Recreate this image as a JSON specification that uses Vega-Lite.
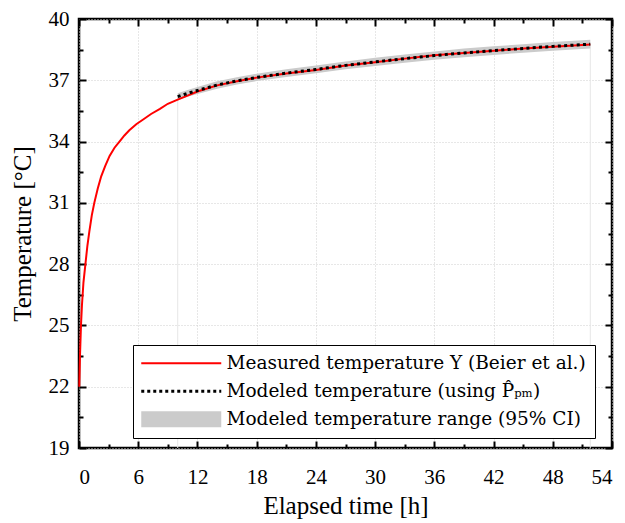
{
  "$schema": "https://vega.github.io/schema/vega-lite/v6.json",
  "width": 533,
  "height": 429,
  "autosize": {"type": "none"},
  "padding": {"left": 79, "top": 19, "right": 13, "bottom": 75},
  "background": "white",
  "config": {
    "view": {"stroke": "black", "strokeWidth": 2.5},
    "axis": {
      "domain": false,
      "labelFont": "Liberation Serif",
      "labelFontSize": 21,
      "labelColor": "black",
      "titleFont": "Liberation Serif",
      "titleFontSize": 25,
      "titleFontWeight": "normal",
      "titleColor": "black",
      "tickColor": "black",
      "tickWidth": 2,
      "gridColor": "#cfcfcf",
      "gridDash": [1, 2],
      "gridWidth": 1
    }
  },
  "datasets": {
    "measured": [
      {"t": 0.03, "T": 22.0, "series": "Measured temperature Y (Beier et al.)"},
      {"t": 0.1, "T": 23.5, "series": "Measured temperature Y (Beier et al.)"},
      {"t": 0.2, "T": 25.0, "series": "Measured temperature Y (Beier et al.)"},
      {"t": 0.3, "T": 26.0, "series": "Measured temperature Y (Beier et al.)"},
      {"t": 0.45, "T": 27.1, "series": "Measured temperature Y (Beier et al.)"},
      {"t": 0.65, "T": 28.0, "series": "Measured temperature Y (Beier et al.)"},
      {"t": 0.85, "T": 28.9, "series": "Measured temperature Y (Beier et al.)"},
      {"t": 1.05, "T": 29.6, "series": "Measured temperature Y (Beier et al.)"},
      {"t": 1.3, "T": 30.4, "series": "Measured temperature Y (Beier et al.)"},
      {"t": 1.55, "T": 31.0, "series": "Measured temperature Y (Beier et al.)"},
      {"t": 1.9, "T": 31.7, "series": "Measured temperature Y (Beier et al.)"},
      {"t": 2.25, "T": 32.3, "series": "Measured temperature Y (Beier et al.)"},
      {"t": 2.65, "T": 32.8, "series": "Measured temperature Y (Beier et al.)"},
      {"t": 3.1, "T": 33.3, "series": "Measured temperature Y (Beier et al.)"},
      {"t": 3.6, "T": 33.7, "series": "Measured temperature Y (Beier et al.)"},
      {"t": 4.1, "T": 34.0, "series": "Measured temperature Y (Beier et al.)"},
      {"t": 4.6, "T": 34.3, "series": "Measured temperature Y (Beier et al.)"},
      {"t": 5.1, "T": 34.55, "series": "Measured temperature Y (Beier et al.)"},
      {"t": 5.8, "T": 34.85, "series": "Measured temperature Y (Beier et al.)"},
      {"t": 6.5, "T": 35.08, "series": "Measured temperature Y (Beier et al.)"},
      {"t": 7.3, "T": 35.35, "series": "Measured temperature Y (Beier et al.)"},
      {"t": 8.2, "T": 35.6, "series": "Measured temperature Y (Beier et al.)"},
      {"t": 9.0, "T": 35.85, "series": "Measured temperature Y (Beier et al.)"},
      {"t": 10.0, "T": 36.05, "series": "Measured temperature Y (Beier et al.)"},
      {"t": 11.0, "T": 36.25, "series": "Measured temperature Y (Beier et al.)"},
      {"t": 12.0, "T": 36.45, "series": "Measured temperature Y (Beier et al.)"},
      {"t": 14.0, "T": 36.75, "series": "Measured temperature Y (Beier et al.)"},
      {"t": 16.0, "T": 36.95, "series": "Measured temperature Y (Beier et al.)"},
      {"t": 18.0, "T": 37.13, "series": "Measured temperature Y (Beier et al.)"},
      {"t": 21.0, "T": 37.33, "series": "Measured temperature Y (Beier et al.)"},
      {"t": 24.0, "T": 37.5, "series": "Measured temperature Y (Beier et al.)"},
      {"t": 27.0, "T": 37.72, "series": "Measured temperature Y (Beier et al.)"},
      {"t": 30.0, "T": 37.88, "series": "Measured temperature Y (Beier et al.)"},
      {"t": 33.0, "T": 38.06, "series": "Measured temperature Y (Beier et al.)"},
      {"t": 36.0, "T": 38.22, "series": "Measured temperature Y (Beier et al.)"},
      {"t": 39.0, "T": 38.34, "series": "Measured temperature Y (Beier et al.)"},
      {"t": 42.0, "T": 38.45, "series": "Measured temperature Y (Beier et al.)"},
      {"t": 45.0, "T": 38.55, "series": "Measured temperature Y (Beier et al.)"},
      {"t": 48.0, "T": 38.64, "series": "Measured temperature Y (Beier et al.)"},
      {"t": 51.8, "T": 38.75, "series": "Measured temperature Y (Beier et al.)"}
    ],
    "model": [
      {"t": 10.0, "T": 36.2, "lo": 36.03, "hi": 36.37},
      {"t": 11.0, "T": 36.36, "lo": 36.19, "hi": 36.53},
      {"t": 12.0, "T": 36.5, "lo": 36.33, "hi": 36.67},
      {"t": 14.0, "T": 36.77, "lo": 36.59, "hi": 36.95},
      {"t": 16.0, "T": 36.97, "lo": 36.79, "hi": 37.15},
      {"t": 18.0, "T": 37.14, "lo": 36.96, "hi": 37.32},
      {"t": 21.0, "T": 37.35, "lo": 37.16, "hi": 37.54},
      {"t": 24.0, "T": 37.53, "lo": 37.34, "hi": 37.72},
      {"t": 27.0, "T": 37.73, "lo": 37.54, "hi": 37.92},
      {"t": 30.0, "T": 37.9, "lo": 37.7, "hi": 38.1},
      {"t": 33.0, "T": 38.06, "lo": 37.86, "hi": 38.26},
      {"t": 36.0, "T": 38.21, "lo": 38.01, "hi": 38.41},
      {"t": 39.0, "T": 38.34, "lo": 38.13, "hi": 38.55},
      {"t": 42.0, "T": 38.45, "lo": 38.24, "hi": 38.66},
      {"t": 45.0, "T": 38.56, "lo": 38.35, "hi": 38.77},
      {"t": 48.0, "T": 38.66, "lo": 38.44, "hi": 38.88},
      {"t": 51.8, "T": 38.77, "lo": 38.55, "hi": 38.99}
    ],
    "vlines": [
      {"t": 10.0, "lo": 19, "T": 36.2},
      {"t": 51.8, "lo": 19, "T": 38.77}
    ]
  },
  "resolve": {"axis": {"x": "independent", "y": "independent"}},
  "layer": [
    {
      "data": {"name": "vlines"},
      "mark": {"type": "rule", "color": "#e6e6e6", "strokeWidth": 1},
      "encoding": {
        "x": {
          "field": "t", "type": "quantitative",
          "scale": {"domain": [0, 54], "nice": false, "zero": false},
          "axis": {"orient": "bottom", "title": null, "labels": false, "grid": false, "tickSize": -4,
                   "values": [3, 9, 15, 21, 27, 33, 39, 45, 51]}
        },
        "y": {
          "field": "lo", "type": "quantitative",
          "scale": {"domain": [19, 40], "nice": false, "zero": false},
          "axis": {"orient": "left", "title": null, "labels": false, "grid": false, "tickSize": -4,
                   "values": [20.5, 23.5, 26.5, 29.5, 32.5, 35.5, 38.5]}
        },
        "y2": {"field": "T"}
      }
    },
    {
      "data": {"name": "model"},
      "mark": {"type": "area", "color": "#cbcbcb", "opacity": 1},
      "encoding": {
        "x": {
          "field": "t", "type": "quantitative",
          "axis": {"orient": "top", "title": null, "labels": false, "grid": false, "tickSize": -7,
                   "values": [0, 6, 12, 18, 24, 30, 36, 42, 48, 54]}
        },
        "y": {
          "field": "lo", "type": "quantitative",
          "axis": {"orient": "right", "title": null, "labels": false, "grid": false, "tickSize": -7,
                   "values": [19, 22, 25, 28, 31, 34, 37, 40]}
        },
        "y2": {"field": "hi"}
      }
    },
    {
      "data": {"name": "measured"},
      "mark": {"type": "line", "strokeCap": "butt", "strokeWidth": 2},
      "encoding": {
        "x": {
          "field": "t", "type": "quantitative",
          "axis": {
            "orient": "bottom",
            "title": "Elapsed time [h]",
            "values": [0, 6, 12, 18, 24, 30, 36, 42, 48, 54],
            "tickSize": -7,
            "grid": true,
            "labelPadding": 25,
            "titlePadding": 6
          }
        },
        "y": {
          "field": "T", "type": "quantitative",
          "axis": {
            "orient": "left",
            "title": "Temperature [°C]",
            "values": [19, 22, 25, 28, 31, 34, 37, 40],
            "tickSize": -7,
            "grid": true,
            "labelPadding": 17,
            "titlePadding": 13
          }
        },
        "color": {
          "field": "series", "type": "nominal",
          "scale": {
            "domain": ["Measured temperature Y (Beier et al.)", "Modeled temperature (using P̂ₚₘ)", "Modeled temperature range (95% CI)"],
            "range": ["#ff0000", "#000000", "#cbcbcb"]
          },
          "legend": {
            "orient": "none",
            "legendX": 54,
            "legendY": 326,
            "title": null,
            "direction": "vertical",
            "symbolType": "M-1,0H7",
            "symbolSize": 400,
            "labelFont": "DejaVu Serif",
            "labelFontSize": 18.5,
            "labelColor": "black",
            "labelLimit": 600,
            "labelOffset": 66,
            "strokeColor": "black",
            "fillColor": "white",
            "padding": 9,
            "rowPadding": 9,
            "cornerRadius": 0,
            "symbolStrokeWidth": 2,
            "symbolOpacity": 1,
            "encode": {
              "symbols": {
                "update": {
                  "shape": {"signal": "datum.value === 'Modeled temperature range (95% CI)' ? 'M-1,-0.8H7V0.8H-1Z' : 'M-1,0H7'"},
                  "fill": {"signal": "datum.value === 'Modeled temperature range (95% CI)' ? '#cbcbcb' : 'transparent'"},
                  "stroke": {"signal": "datum.value === 'Modeled temperature range (95% CI)' ? 'transparent' : (datum.value === 'Modeled temperature (using P̂ₚₘ)' ? '#000000' : '#ff0000')"},
                  "strokeWidth": {"signal": "datum.value === 'Modeled temperature range (95% CI)' ? 0 : (datum.value === 'Modeled temperature (using P̂ₚₘ)' ? 3 : 2)"},
                  "strokeDash": {"signal": "datum.value === 'Modeled temperature (using P̂ₚₘ)' ? [3, 3] : [1, 0]"}
                }
              }
            }
          }
        }
      }
    },
    {
      "data": {"name": "model"},
      "mark": {"type": "line", "strokeCap": "butt", "color": "black", "strokeWidth": 3, "strokeDash": [3, 3.3]},
      "encoding": {
        "x": {
          "field": "t", "type": "quantitative",
          "axis": {"orient": "top", "title": null, "labels": false, "grid": false, "tickSize": -4,
                   "values": [3, 9, 15, 21, 27, 33, 39, 45, 51]}
        },
        "y": {
          "field": "T", "type": "quantitative",
          "axis": {"orient": "right", "title": null, "labels": false, "grid": false, "tickSize": -4,
                   "values": [20.5, 23.5, 26.5, 29.5, 32.5, 35.5, 38.5]}
        }
      }
    }
  ]
}
